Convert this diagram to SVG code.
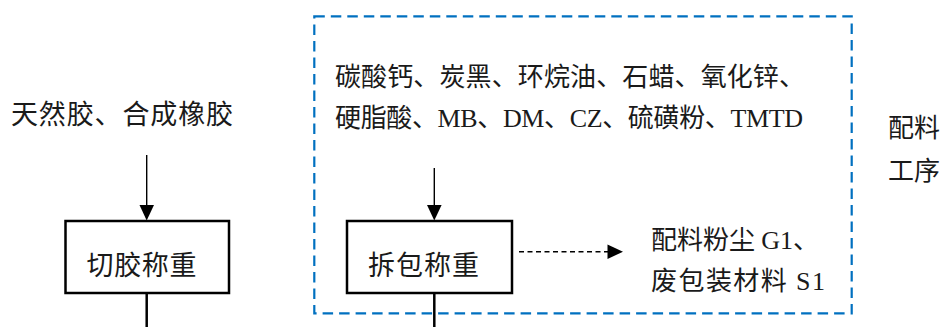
<svg xmlns="http://www.w3.org/2000/svg" width="943" height="327" viewBox="0 0 943 327">
<style>
  text { font-family: "Liberation Serif", "Noto Sans CJK SC", serif; font-weight: normal; fill: #1a1a1a; }
  .t26 { font-size: 26px; }
  .t27 { font-size: 27px; }
  .box { fill: #ffffff; stroke: #000000; stroke-width: 2.5; }
  .thin { stroke: #000000; stroke-width: 1.4; fill: none; }
  .thick { stroke: #000000; stroke-width: 2.5; fill: none; }
  .dash { stroke: #000000; stroke-width: 1.4; fill: none; stroke-dasharray: 5 3.5; }
  .head { fill: #000000; }
  .group { fill: none; stroke: #0070C0; stroke-width: 2.2; stroke-dasharray: 10.5 6; }
</style>
<rect width="943" height="327" fill="#ffffff"/>

<g id="batching-area">
  <rect class="group" x="314.3" y="16.3" width="537.4" height="297"/>
</g>

<g id="raw-rubber">
  <text class="t27" x="11" y="124" textLength="222" lengthAdjust="spacing">天然胶、合成橡胶</text>
</g>

<g id="additives">
  <text class="t26" x="335" y="86" textLength="470" lengthAdjust="spacing">碳酸钙、炭黑、环烷油、石蜡、氧化锌、</text>
  <text class="t26" x="335" y="127" textLength="468" lengthAdjust="spacing">硬脂酸、MB、DM、CZ、硫磺粉、TMTD</text>
</g>

<g id="cut-weigh">
  <rect class="box" x="65.5" y="221" width="163.5" height="72"/>
  <text class="t27" x="86.5" y="275" textLength="110" lengthAdjust="spacing">切胶称重</text>
</g>

<g id="unpack-weigh">
  <rect class="box" x="347" y="221" width="165" height="72"/>
  <text class="t27" x="368" y="275" textLength="111" lengthAdjust="spacing">拆包称重</text>
</g>

<g id="emissions">
  <text class="t26" x="651" y="249" textLength="168" lengthAdjust="spacing">配料粉尘 G1、</text>
  <text class="t26" x="651" y="290" textLength="174" lengthAdjust="spacing">废包装材料 S1</text>
</g>

<g id="batching-label">
  <text class="t26" x="888" y="137">配料</text>
  <text class="t26" x="888" y="180">工序</text>
</g>

<g id="connectors">
  <line class="thin" x1="146.7" y1="155" x2="146.7" y2="207"/>
  <polygon class="head" points="139.5,205 154,205 146.7,220.5"/>
  <line class="thin" x1="434.3" y1="168" x2="434.3" y2="207"/>
  <polygon class="head" points="427,205 441.6,205 434.3,220.5"/>
  <line class="dash" x1="519" y1="251.7" x2="609" y2="251.7"/>
  <polygon class="head" points="607.5,244.5 607.5,259 623,251.7"/>
  <line class="thick" x1="146.7" y1="293" x2="146.7" y2="327"/>
  <line class="thick" x1="434.3" y1="293" x2="434.3" y2="327"/>
</g>
</svg>
